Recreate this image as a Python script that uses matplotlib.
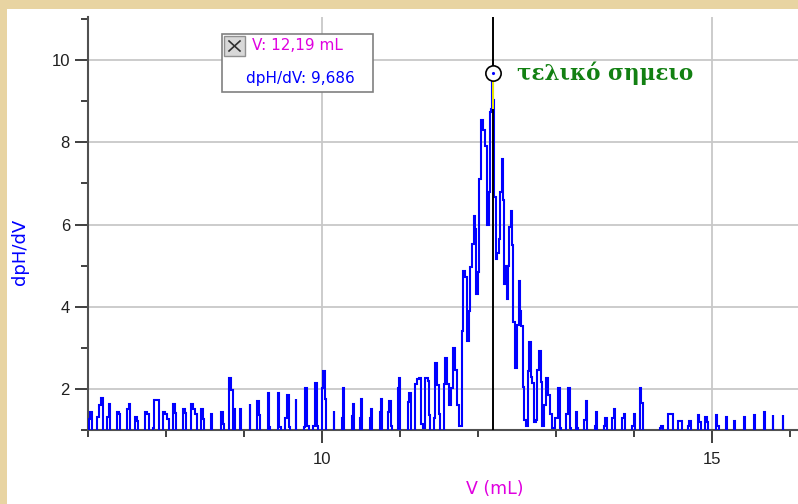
import numpy as np
import matplotlib
matplotlib.use("Agg")
import matplotlib.pyplot as plt
from matplotlib.patches import Rectangle
from matplotlib.lines import Line2D
from matplotlib.ticker import FixedLocator, MultipleLocator

# Titration derivative data: volume of titrant (mL) and dpH/dV readings
volume = [
    7.013, 7.047, 7.124, 7.154, 7.183, 7.253, 7.282, 7.381, 7.410, 7.509,
    7.538, 7.612, 7.637, 7.740, 7.773, 7.837, 7.868, 7.901, 7.970, 7.996,
    8.029, 8.099, 8.124, 8.227, 8.256, 8.329, 8.355, 8.388, 8.458, 8.483,
    8.586, 8.714, 8.740, 8.817, 8.846, 8.865, 8.885, 8.953, 9.077, 9.179,
    9.205, 9.308, 9.333, 9.436, 9.462, 9.538, 9.564, 9.590, 9.667, 9.769,
    9.795, 9.821, 9.897, 9.923, 9.949, 10.000, 10.026, 10.051, 10.154, 10.256,
    10.282, 10.385, 10.410, 10.487, 10.513, 10.615, 10.641, 10.744, 10.769, 10.846,
    10.872, 10.897, 10.974, 11.000, 11.106, 11.132, 11.201, 11.227, 11.256, 11.278,
    11.304, 11.342, 11.368, 11.385, 11.440, 11.465, 11.491, 11.510, 11.568, 11.594,
    11.619, 11.641, 11.671, 11.696, 11.722, 11.747, 11.773, 11.804, 11.824, 11.846,
    11.872, 11.894, 11.910, 11.936, 11.958, 11.971, 11.987, 12.004, 12.029, 12.055,
    12.081, 12.106, 12.132, 12.150, 12.167, 12.179, 12.190, 12.201, 12.222, 12.240,
    12.256, 12.273, 12.291, 12.312, 12.324, 12.342, 12.359, 12.376, 12.394, 12.410,
    12.427, 12.445, 12.462, 12.496, 12.513, 12.529, 12.547, 12.564, 12.581, 12.599,
    12.624, 12.650, 12.667, 12.683, 12.705, 12.731, 12.753, 12.769, 12.791, 12.812,
    12.837, 12.863, 12.888, 12.914, 12.940, 12.965, 13.009, 13.035, 13.060, 13.137,
    13.163, 13.188, 13.265, 13.282, 13.368, 13.394, 13.500, 13.526, 13.615, 13.647,
    13.722, 13.756, 13.850, 13.885, 13.978, 14.013, 14.083, 14.109, 14.333, 14.363,
    14.440, 14.465, 14.491, 14.568, 14.603, 14.697, 14.723, 14.824, 14.850, 14.919,
    14.949, 15.060, 15.081, 15.188, 15.286, 15.414, 15.542, 15.670, 15.782, 15.910,
]
dpH_dV = [
    1.27, 1.45, 1.32, 1.61, 1.78, 1.32, 1.63, 1.45, 1.39, 1.51,
    1.63, 1.32, 1.23, 1.45, 1.39, 1.06, 1.73, 1.73, 1.45, 1.39,
    1.27, 1.63, 1.42, 1.51, 1.42, 1.63, 1.51, 1.39, 1.51, 1.27,
    1.39, 1.45, 1.15, 2.27, 1.98, 0.00, 1.51, 1.51, 1.63, 1.71,
    1.37, 1.90, 1.08, 1.90, 1.08, 1.30, 1.84, 1.08, 1.75, 1.08,
    2.03, 1.10, 1.10, 2.14, 1.10, 2.03, 2.44, 1.75, 1.46, 1.30,
    2.03, 1.34, 1.63, 1.30, 1.75, 1.30, 1.52, 1.44, 1.75, 1.44,
    1.71, 1.10, 2.03, 2.27, 1.67, 1.91, 2.11, 2.24, 2.27, 1.15,
    1.05, 2.27, 2.20, 1.37, 1.30, 2.62, 2.10, 1.40, 2.12, 2.76,
    2.12, 1.60, 2.03, 3.00, 2.45, 1.60, 1.10, 3.41, 4.88, 4.72,
    3.17, 3.90, 4.96, 5.53, 6.20, 5.90, 4.31, 4.85, 7.11, 8.55,
    8.30, 7.90, 6.00, 6.80, 8.74, 8.80, 9.686, 9.02, 6.67, 5.16,
    5.30, 5.65, 6.79, 7.60, 6.60, 4.55, 5.00, 4.19, 5.00, 5.93,
    6.34, 5.50, 3.62, 2.52, 3.55, 4.63, 3.90, 3.53, 2.05, 1.25,
    1.10, 2.44, 3.15, 2.30, 2.15, 1.20, 1.25, 2.47, 2.93, 2.16,
    1.10, 1.60, 2.27, 1.85, 1.40, 1.05, 1.30, 2.03, 1.05, 1.40,
    2.03, 1.05, 1.45, 1.05, 1.25, 1.71, 1.10, 1.45, 1.10, 1.30,
    1.30, 1.50, 1.30, 1.38, 1.10, 1.38, 2.03, 1.66, 1.05, 1.10,
    1.38, 1.38, 1.38, 1.23, 1.23, 1.10, 1.23, 1.36, 1.20, 1.32,
    1.20, 1.36, 1.10, 1.32, 1.23, 1.32, 1.36, 1.45, 1.36, 1.36,
]

# Examined point (end point of the titration)
sel_volume = 12.19
sel_value = 9.686
sel_text_v = "V: 12,19 mL"
sel_text_d = "dpH/dV: 9,686"
endpoint_label = "τελικό σημειο"

x_limits = (7.0, 16.1)
y_limits = (1.0, 11.05)
x_major = [10, 15]
y_major = [2, 4, 6, 8, 10]

W, H = 798, 504
fig = plt.figure(figsize=(W / 100, H / 100), dpi=100)
fig.patch.set_facecolor("#E8D4A2")
fig.patches.append(Rectangle((7 / W, 0), 1 - 7 / W, 1 - 9 / H,
                             transform=fig.transFigure, facecolor="white",
                             edgecolor="none", zorder=-5))

ax = fig.add_axes([88 / W, 1 - 430 / H, 709.8 / W, 413 / H])
ax.set_facecolor("none")
ax.set_zorder(2)

# Build the stepped trace: neighbouring readings share an edge,
# isolated readings rise from and fall back to zero.
v = np.asarray(volume, dtype=float)
h = np.asarray(dpH_dV, dtype=float)
JOIN = 0.045
HALF = 0.006
xs, ys = [], []
for i in range(len(v)):
    jl = i > 0 and v[i] - v[i - 1] < JOIN
    jr = i < len(v) - 1 and v[i + 1] - v[i] < JOIN
    left = (v[i - 1] + v[i]) / 2 if jl else v[i] - HALF
    right = (v[i] + v[i + 1]) / 2 if jr else v[i] + HALF
    if not jl:
        xs.append(left); ys.append(0.0)
    xs += [left, right]; ys += [h[i], h[i]]
    if not jr:
        xs.append(right); ys.append(0.0)

ax.plot(xs, ys, color="#0000FF", lw=1.5, solid_joinstyle="miter", zorder=3)

# Cursor at the examined point
ax.axvline(sel_volume, color="black", lw=1.4, zorder=4)
i_sel = int(np.argmin(np.abs(v - sel_volume)))
ax.plot([v[i_sel], v[i_sel]], [h[i_sel - 1], h[i_sel]], color="#FFFF00",
        lw=1.3, zorder=5, solid_capstyle="butt")
ax.plot([sel_volume], [sel_value], marker="o", ms=11, mfc="white",
        mec="black", mew=1.2, zorder=6, clip_on=False)
ax.plot([sel_volume], [sel_value], marker=".", ms=2.5, color="#0000FF", zorder=7)

ax.text(12.5, sel_value, endpoint_label, color="#128012", fontsize=15.5,
        fontweight="bold", family="DejaVu Serif", va="center", ha="left",
        zorder=6)

ax.set_xlim(*x_limits)
ax.set_ylim(*y_limits)

ax.xaxis.set_major_locator(FixedLocator(x_major))
ax.xaxis.set_minor_locator(MultipleLocator(1))
ax.yaxis.set_major_locator(FixedLocator(y_major))
ax.yaxis.set_minor_locator(FixedLocator([1, 3, 5, 7, 9, 11]))

ax.grid(True, which="major", color="#C8C8C8", lw=1.3, zorder=1)
ax.set_axisbelow(True)

for side in ("top", "right"):
    ax.spines[side].set_visible(False)
for side in ("left", "bottom"):
    ax.spines[side].set_color("#505050")
    ax.spines[side].set_linewidth(1.5)

ax.tick_params(which="major", direction="out", length=9.5, width=1.3,
               color="#303030", labelsize=12, labelcolor="#202020")
ax.tick_params(which="minor", direction="out", length=4.7, width=1.3,
               color="#303030")
ax.tick_params(axis="y", which="major", pad=3.5)
ax.tick_params(axis="x", which="major", pad=6)
for lab in ax.get_xticklabels() + ax.get_yticklabels():
    lab.set_family("Liberation Sans")

ax.set_ylabel("dpH/dV", color="#0000FF", fontsize=13, family="DejaVu Sans")
ax.yaxis.set_label_coords(-0.0830, 0.431)
ax.set_xlabel("V (mL)", color="#E000E0", fontsize=12.5, family="DejaVu Sans")
ax.xaxis.set_label_coords(0.5734, -0.121)

# Readout box for the examined point
def fx(px):
    return px / W

def fy(py):
    return 1 - py / H

fig.patches.append(Rectangle((fx(222), fy(92)), fx(373) - fx(222), fy(34) - fy(92),
                             transform=fig.transFigure, facecolor="white",
                             edgecolor="#808080", lw=1.2, zorder=10))
fig.patches.append(Rectangle((fx(224), fy(56)), fx(245) - fx(224), fy(36) - fy(56),
                             transform=fig.transFigure, facecolor="#D8D8D8",
                             edgecolor="#909090", lw=1.0, zorder=11))
fig.lines.append(Line2D([fx(229), fx(240)], [fy(41), fy(51)], transform=fig.transFigure,
                        color="#303030", lw=1.2, zorder=12))
fig.lines.append(Line2D([fx(229), fx(240)], [fy(51), fy(41)], transform=fig.transFigure,
                        color="#303030", lw=1.2, zorder=12))
fig.text(fx(252), fy(45), sel_text_v, color="#E000E0", fontsize=11,
         family="DejaVu Sans", va="center", ha="left", zorder=12)
fig.text(fx(246), fy(78), sel_text_d, color="#0000FF", fontsize=11,
         family="DejaVu Sans", va="center", ha="left", zorder=12)

fig.savefig("out.png", dpi=100, facecolor=fig.get_facecolor())
